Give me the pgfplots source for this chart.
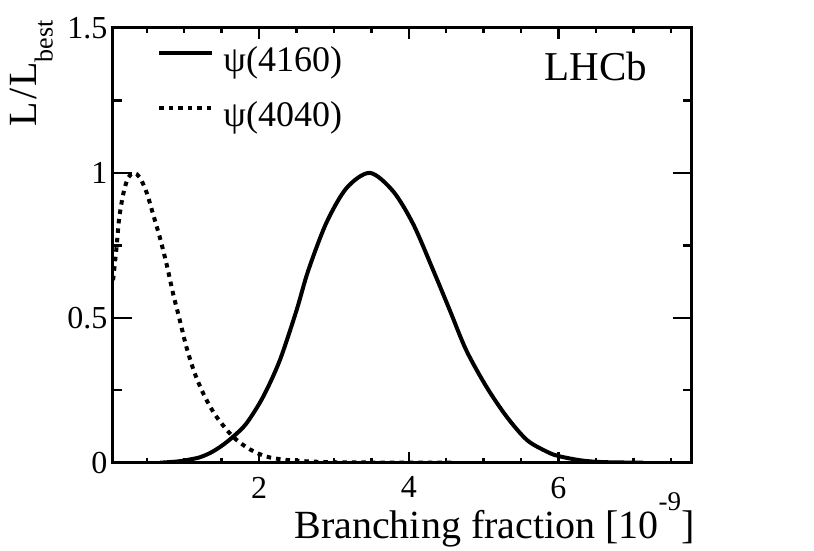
\documentclass[border=0pt]{standalone}
\usepackage{fontspec}
\setmainfont{Liberation Serif}
\usepackage{pgfplots}
\pgfplotsset{compat=1.18}

\begin{document}
\begin{tikzpicture}
\pgfplotsset{
  common/.style={
    scale only axis, width=579pt, height=434.7pt,
    at={(0pt,0pt)}, anchor=south west,
    xmin=0.045, xmax=7.78, ymin=0, ymax=1.5,
    axis line style={line width=3pt, black, line cap=rect},
    tick align=inside,
    xtick pos=both, ytick pos=both,
    xticklabel pos=lower, yticklabel pos=left,
    tick style={line width=2.5pt, black},
    /pgf/number format/assume math mode=true,
  }
}
\begin{axis}[common,
  xtick={2,4,6},
  minor xtick={0.5,1,1.5,2.5,3,3.5,4.5,5,5.5,6.5,7,7.5},
  ytick=\empty,
  major tick length=11pt, minor tick length=5pt,
  xticklabel style={font=\fontsize{32}{32}\selectfont, inner sep=0pt, anchor=north, yshift=-14pt},
  xlabel={Branching fraction [10\raisebox{28pt}{\fontsize{27}{27}\selectfont -9}]},
  every axis x label/.style={at={(rel axis cs:1,0)}, anchor=base east, xshift=3pt, yshift=-75.3pt, inner sep=0pt, font=\fontsize{40}{40}\selectfont},
  legend style={at={(rel axis cs:0.077,0.957)}, anchor=north west, draw=none, fill=none, inner sep=0pt, row sep=30pt, column sep=9pt, font=\fontsize{36}{36}\selectfont, nodes={inner sep=0pt, text depth=0pt}, cells={anchor=base west}},
  legend image code/.code={\draw[#1] (0pt,6.5pt) -- (53pt,6.5pt);},
  legend cell align=left,
]
\addplot[black, line width=4pt, line join=round, smooth, tension=0.5] coordinates {
(0.68,0) (0.9,0.004) (1.03,0.009) (1.2,0.018) (1.35,0.034) (1.5,0.058)
(1.655,0.09) (1.83,0.135) (2.054,0.227) (2.277,0.353) (2.5,0.525)
(2.656,0.662) (2.9,0.828) (3.17,0.948) (3.48,1.0) (3.79,0.937)
(4.06,0.823) (4.33,0.662) (4.55,0.525) (4.77,0.387) (5.04,0.261)
(5.31,0.158) (5.58,0.078) (5.845,0.038) (6.0,0.023) (6.3,0.008)
(6.6,0.002) (7.13,0)
};
\addlegendentry{ψ(4160)}
\addplot[black, line width=4pt, dash pattern=on 4.5pt off 5pt, smooth, tension=0.5] coordinates {
(0.05,0.63) (0.096,0.742) (0.13,0.84) (0.185,0.926) (0.25,0.983)
(0.33,1.0) (0.41,0.983) (0.5,0.931) (0.585,0.857) (0.675,0.777)
(0.765,0.685) (0.853,0.582) (0.943,0.49) (1.03,0.399) (1.143,0.307)
(1.277,0.227) (1.433,0.158) (1.655,0.089) (1.878,0.046) (2.1,0.021)
(2.35,0.01) (2.7,0.004) (3.2,0.001) (4.6,0)
};
\addlegendentry{ψ(4040)}
\node[font=\fontsize{41}{41}\selectfont, anchor=base, inner sep=0pt] at (rel axis cs:0.835,0.879) {LHCb};
\end{axis}
\begin{axis}[common,
  xtick=\empty,
  ytick={0,0.5,1,1.5},
  minor ytick={0.25,0.75,1.25},
  major tick length=19pt, minor tick length=9pt,
  yticklabel style={font=\fontsize{32}{32}\selectfont, inner sep=0pt, anchor=east, xshift=-5pt},
  ylabel={L\kern2pt/\kern2pt L\raisebox{-16pt}{\fontsize{26}{26}\selectfont best}},
  every axis y label/.style={at={(rel axis cs:0,1)}, xshift=-76pt, yshift=8pt, rotate=90, anchor=base east, inner sep=0pt, font=\fontsize{40}{40}\selectfont},
]
\end{axis}
\pgfresetboundingbox
\path (-112.7pt,-88.3pt) rectangle (701.3pt,462.7pt);
\end{tikzpicture}
\end{document}
